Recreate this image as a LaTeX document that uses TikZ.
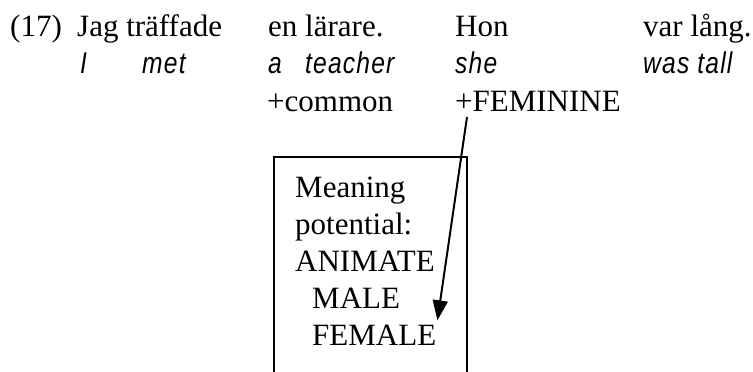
\documentclass[tikz,border=0pt]{standalone}
\usepackage{fontspec}
\setmainfont{Liberation Serif}
\newfontfamily\glossfont{Liberation Sans}[FakeStretch=0.82,LetterSpace=4]
\usetikzlibrary{arrows.meta}
\begin{document}
\begin{tikzpicture}[x=1pt,y=1pt,
  txt/.style={inner sep=0pt,anchor=base west,font=\fontsize{31}{37}\selectfont},
  gl/.style={inner sep=0pt,anchor=base west,font=\glossfont\itshape\fontsize{30}{36}\selectfont},
  frame/.style={line width=1.5pt},
  link/.style={line width=2pt,-{Triangle[length=20pt,width=15pt]}}]
\useasboundingbox (0,0) rectangle (753,-372);
% row 1
\node[txt] (num) at (10,-36) {(17)};
\node[txt] (jag) at (77,-36) {Jag träffade};
\node[txt] (en) at (268,-36) {en lärare.};
\node[txt] (hon) at (455,-36) {Hon};
\node[txt] (var) at (643,-36) {var lång.};
% row 2
\node[gl] (gI) at (80,-73) {I};
\node[gl] (gmet) at (142,-73) {met};
\node[gl] (ga) at (268,-73) {a};
\node[gl] (gteacher) at (305,-73) {teacher};
\node[gl] (gshe) at (455,-73) {she};
\node[gl] (gwas) at (643,-73) {was tall};
% row 3
\node[txt] (common) at (267,-111) {+common};
\node[txt] (fem) at (455,-111) {+FEMININE};
% box
\draw[frame] (274,-380) |- (467,-157) -- (467,-380);
\node[txt] (m1) at (295,-197) {Meaning};
\node[txt] (m2) at (295,-234) {potential:};
\node[txt] (m3) at (295,-271) {ANIMATE};
\node[txt] (m4) at (312,-308) {MALE};
\node[txt] (female) at (312,-345) {FEMALE};
% arrow
\draw[link] ([shift={(12,-6)}]fem.base west) -- ([shift={(1,4)}]female.north east);
\end{tikzpicture}
\end{document}
